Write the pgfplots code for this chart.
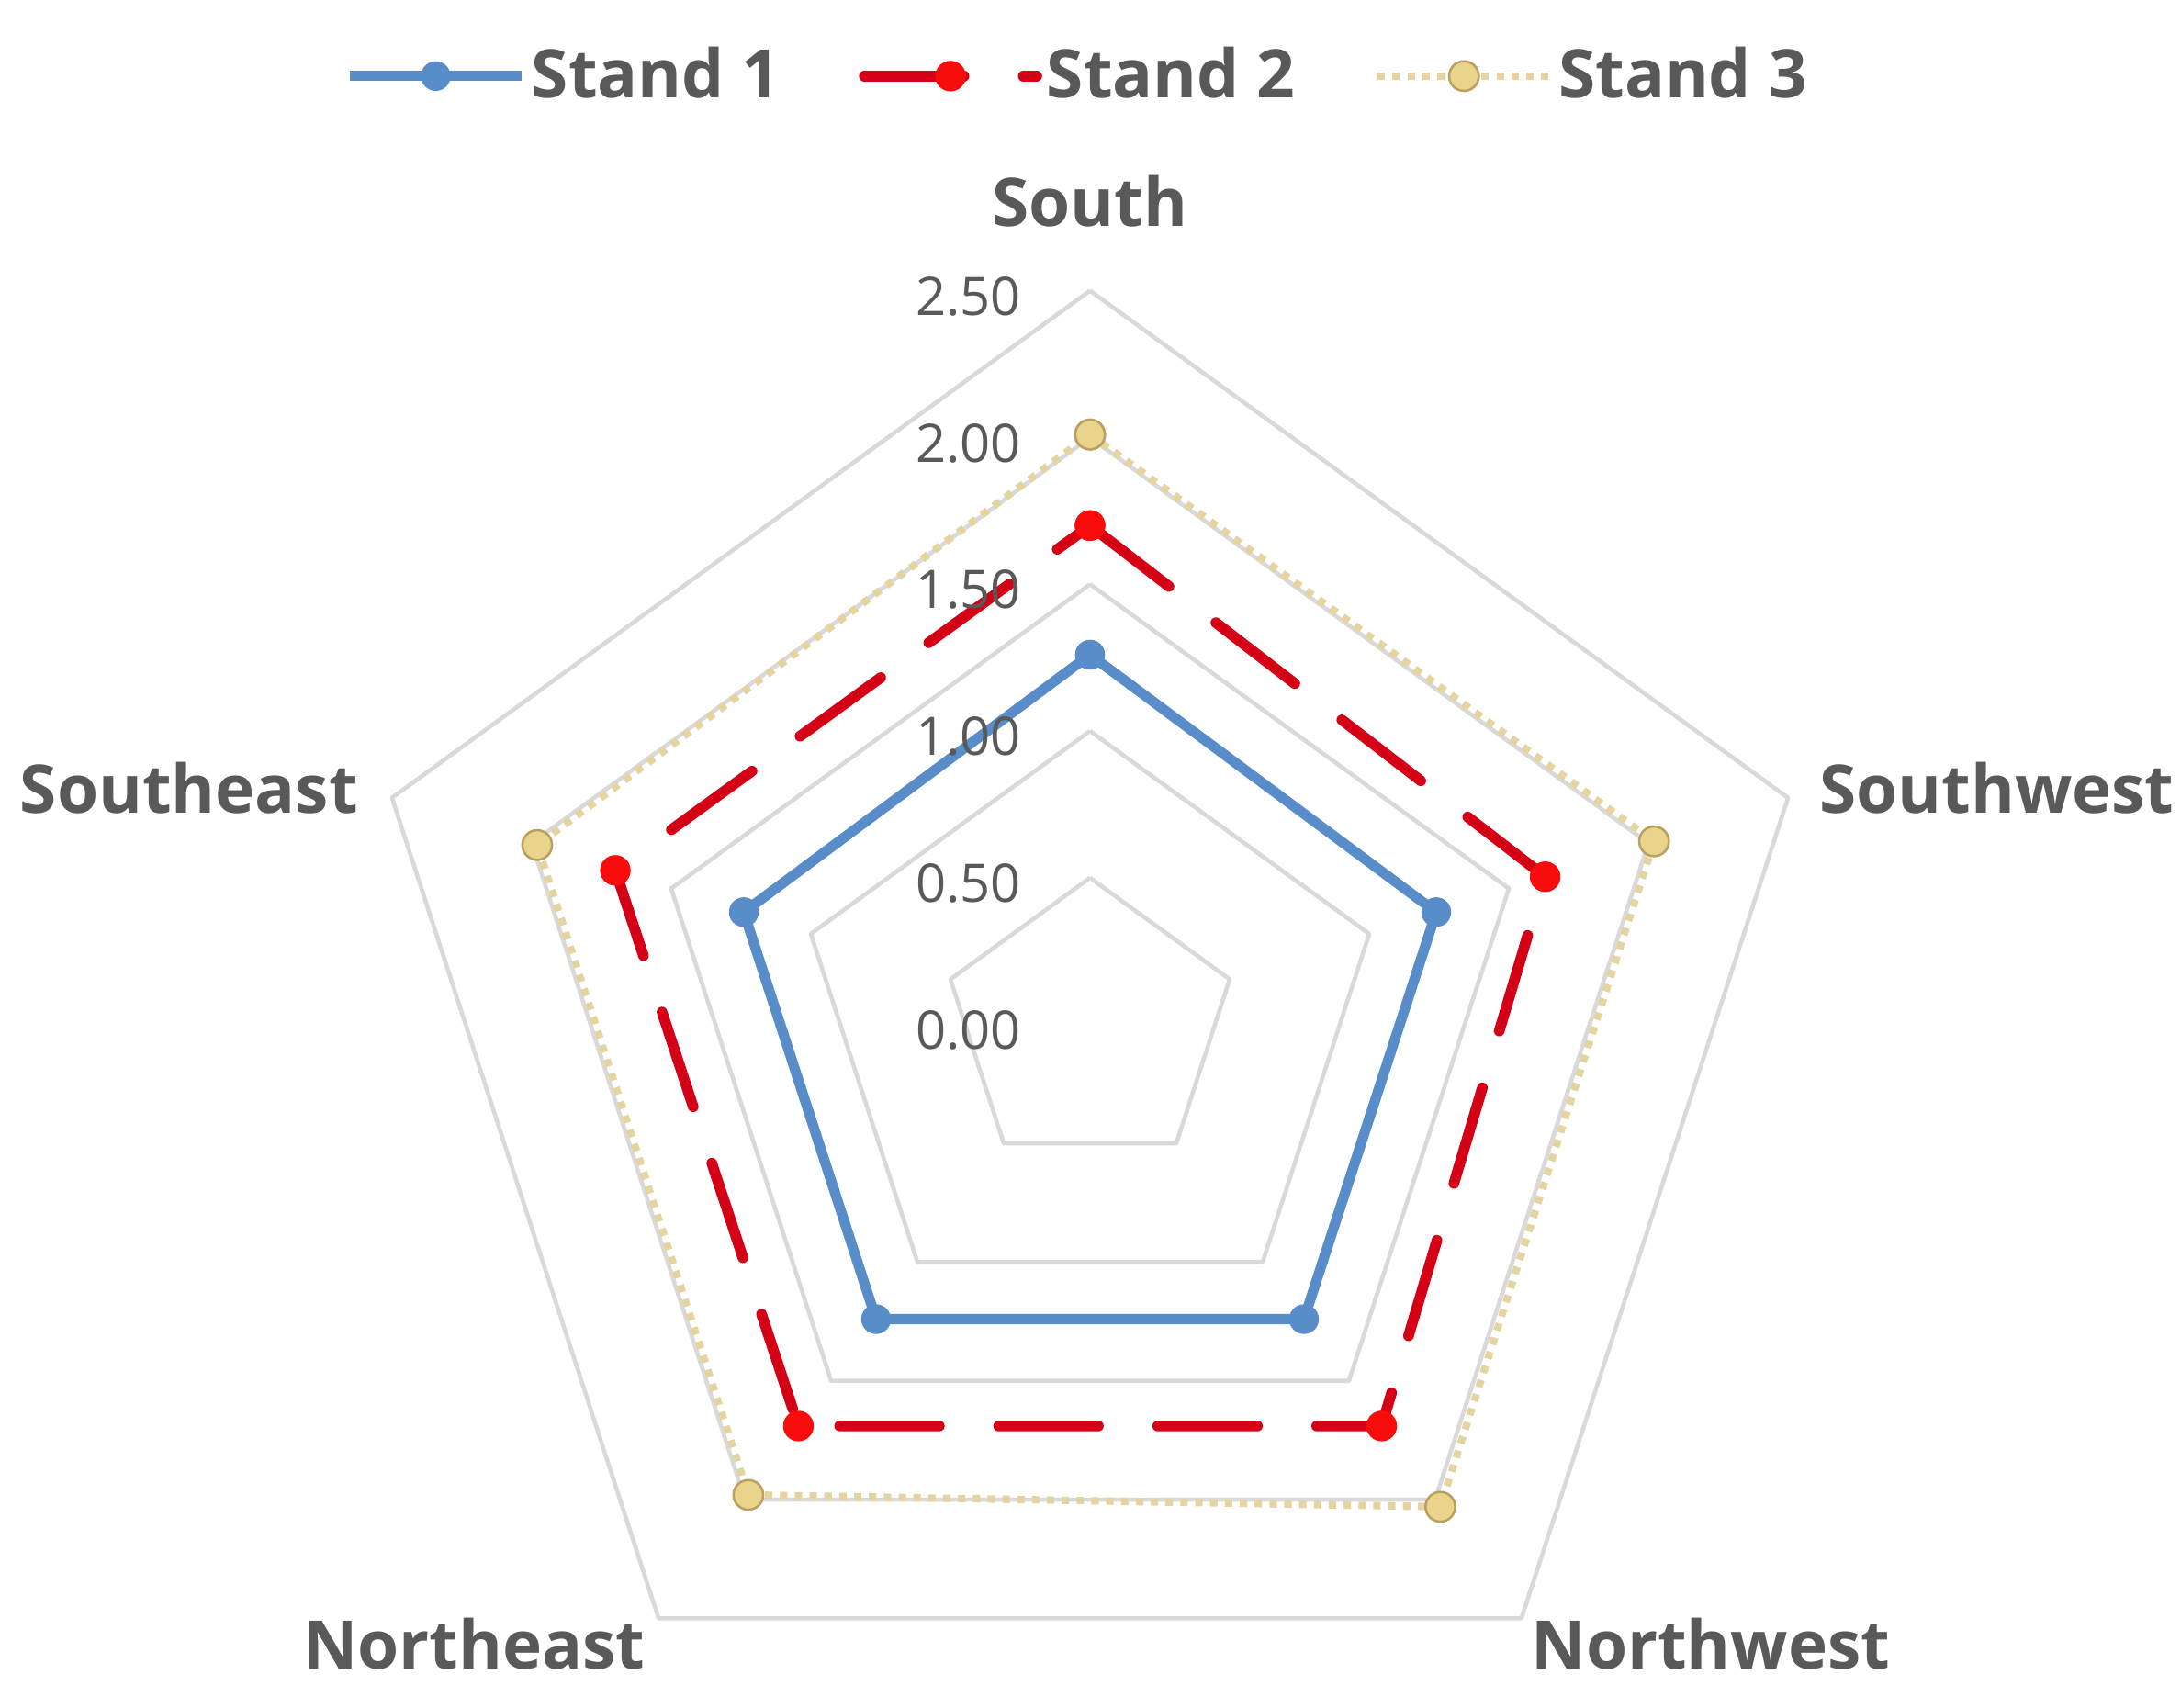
\documentclass[border=0pt]{standalone}
\usepackage{fontspec}
\setmainfont{Open Sans}
\usepackage{pgfplots}
\pgfplotsset{compat=1.18}
\usepgfplotslibrary{polar}

\definecolor{gridgray}{RGB}{217,217,217}
\definecolor{txtgray}{RGB}{89,89,89}
\definecolor{s1blue}{RGB}{88,141,202}
\definecolor{s2red}{RGB}{212,0,22}
\definecolor{s2mark}{RGB}{250,12,12}
\definecolor{s3line}{RGB}{228,213,160}
\definecolor{s3fill}{RGB}{233,212,140}
\definecolor{s3edge}{RGB}{185,160,95}

\begin{document}
\begin{tikzpicture}
\begin{polaraxis}[
    scale only axis,
    width=316.6bp, height=316.6bp,
    ymin=0, ymax=2.5,
    hide axis,
    clip=false,
    legend columns=3,
    legend style={
        at={(0.4918,1.1462)}, anchor=center,
        draw=none, fill=none,
        font=\bfseries\fontsize{14.5}{17}\selectfont,
        text=txtgray,
        nodes={inner xsep=1bp},
        /tikz/every even column/.append style={column sep=16bp},
        /tikz/every odd column/.append style={column sep=0bp},
    },
    legend image code/.code={
        \draw[mark repeat=2, mark phase=2, #1]
            plot coordinates {(0bp,0bp) (18.6bp,0bp) (37.2bp,0bp)};
    },
]
% pentagonal grid
\pgfplotsinvokeforeach{0.5,1.0,1.5,2.0,2.5}{
  \addplot[gridgray, line width=0.9bp, line join=round, forget plot]
    coordinates {(90,#1) (18,#1) (306,#1) (234,#1) (162,#1) (90,#1)};
}

% South, Southwest, Northwest, Northeast, Southeast
\addplot[s1blue, line width=2.2bp, line join=round,
    mark=*, mark size=3bp, mark options={fill=s1blue, draw=s1blue, line width=0.4bp}]
  coordinates {(90,1.26) (18,1.24) (306,1.24) (234,1.24) (162,1.24) (90,1.26)};
\addlegendentry{Stand 1}

\addplot[s2red, line width=2.3bp, line cap=round, line join=round,
    dash pattern=on 21.5bp off 12.8bp,
    mark=*, mark size=3.1bp, mark options={solid, fill=s2mark, draw=s2mark, line width=0.4bp}]
  coordinates {(90,1.70) (18,1.63) (306,1.69) (234,1.69) (162,1.70) (90,1.70)};
\addlegendentry{Stand 2}

\addplot[s3line, line width=1.6bp, dash pattern=on 1.6bp off 1.6bp,
    mark=*, mark size=3.2bp,
    mark options={solid, fill=s3fill, draw=s3edge, line width=0.5bp}]
  coordinates {(90,2.01) (18,2.02) (306,2.03) (234,1.98) (162,1.98) (90,2.01)};
\addlegendentry{Stand 3}

\coordinate (c) at (axis cs:0,0);

% radial tick labels
\begin{scope}[every node/.style={anchor=east, inner sep=0pt, text=txtgray,
    font=\fontsize{11.5}{13}\selectfont, xshift=-14.7bp, yshift=-1.2bp}]
\node at (axis cs:90,2.5) {2.50};
\node at (axis cs:90,2.0) {2.00};
\node at (axis cs:90,1.5) {1.50};
\node at (axis cs:90,1.0) {1.00};
\node at (axis cs:90,0.5) {0.50};
\node at (axis cs:0,0) {0.00};
\end{scope}
\end{polaraxis}

% category labels
\begin{scope}[every node/.style={inner sep=0pt, text=txtgray,
    font=\bfseries\fontsize{14.5}{17}\selectfont}]
\node at ([shift={(0bp,177.5bp)}]c) {South};
\node[anchor=west] at ([shift={(157.1bp,51bp)}]c) {Southwest};
\node[anchor=east] at ([shift={(-157.7bp,51bp)}]c) {Southeast};
\node at ([shift={(133.9bp,-133.5bp)}]c) {Northwest};
\node at ([shift={(-132.8bp,-133.5bp)}]c) {Northeast};
\end{scope}

\pgfresetboundingbox
\path[use as bounding box] ([shift={(-235.1bp,-147.2bp)}]c) rectangle ([shift={(235.3bp,221.0bp)}]c);
\end{tikzpicture}
\end{document}
